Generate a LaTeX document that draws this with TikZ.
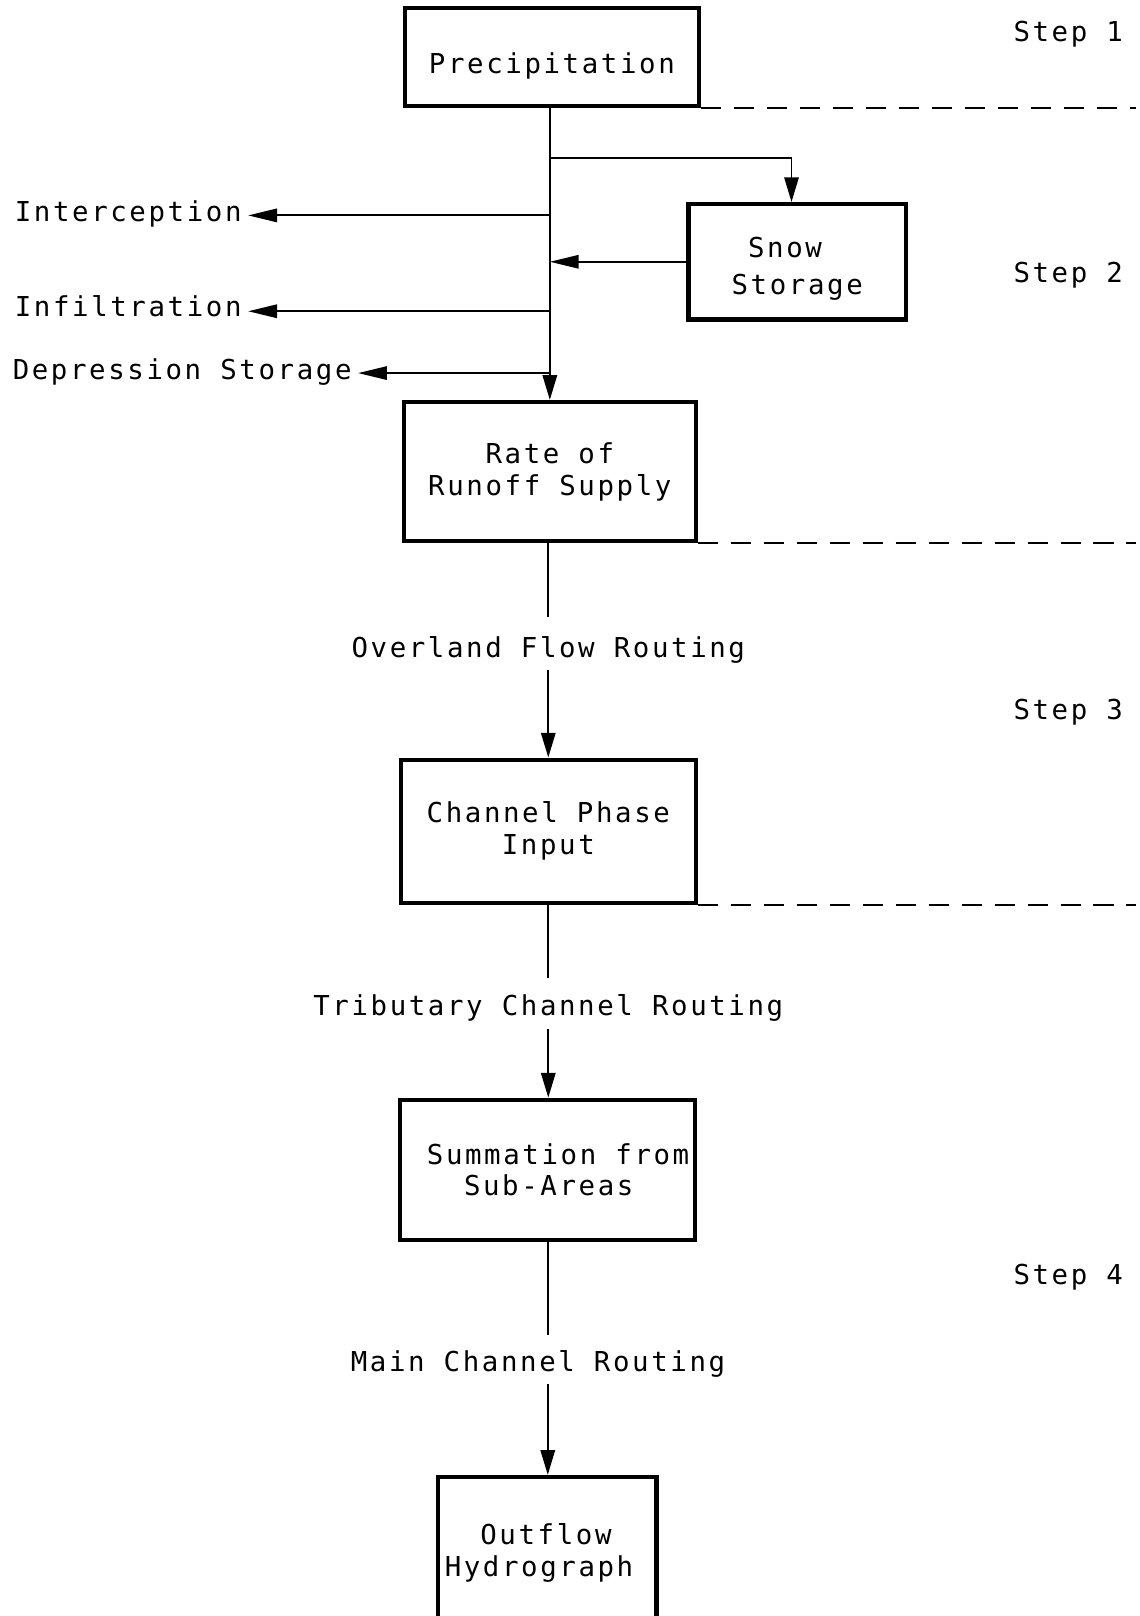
\documentclass[tikz,border=0pt]{standalone}
\usepackage{fontspec}
\setmonofont{DejaVu Sans Mono}[LetterSpace=9.5]
\usetikzlibrary{arrows.meta}
\begin{document}
\begin{tikzpicture}[x=0.5pt, y=-0.5pt,
  every node/.style={font=\ttfamily\fontsize{13.3}{15.5}\selectfont},
  box/.style={draw, line width=2pt, inner sep=0pt, align=center},
  flow/.style={line width=0.9pt},
  downhead/.style={flow, -{Triangle[length=12pt,width=7pt]}},
  sidehead/.style={flow, -{Triangle[length=14pt,width=6.5pt]}},
  divider/.style={line width=0.8pt, dash pattern=on 10pt off 6pt},
  routing/.style={inner sep=0pt},
  steplabel/.style={anchor=base west, inner sep=0pt},
  losslabel/.style={anchor=base west, inner xsep=3pt, inner ysep=0pt}]

\fill[white] (0,0) rectangle (1106,1568);
\useasboundingbox (0,0) rectangle (1106,1568);
\clip (0,0) rectangle (1106,1568);

% main column of process boxes
\node[box, minimum width=142.5pt, minimum height=47.5pt, text height=19pt, text depth=3pt] (prec) at (535.5,55.5) {Precipitation};
\node[box, minimum width=105.5pt, minimum height=56pt, align=left] (snow) at (773.5,254) {\rule{0pt}{16.7pt}\phantom{S}Snow\\[2.5pt]Storage};
\node[box, minimum width=141.5pt, minimum height=67.5pt] (rate) at (533.5,457.5) {Rate of\\Runoff Supply};
\node[box, minimum width=143pt, minimum height=69.5pt] (chan) at (532,806.5) {Channel Phase\\Input};
\node[box, minimum width=143pt, minimum height=68pt, align=left] (summ) at (531.5,1135) {\hspace*{10pt}Summation from\\\hspace*{28pt}Sub-Areas};
\node[box, minimum width=106pt, minimum height=73.5pt, align=left] (outf) at (531,1506.5) {\phantom{Hy}Outflow\\Hydrograph\hspace*{8pt}};

% routing labels that interrupt the trunk
\node[routing, text height=19.5pt, text depth=6pt] (overland) at (532,624.5) {Overland Flow Routing};
\node[routing, text height=18pt, text depth=6.5pt] (trib) at (532,973.5) {Tributary Channel Routing};
\node[routing, text height=17.5pt, text depth=5.5pt] (mainch) at (522,1319) {Main Channel Routing};

% losses leaving the trunk
\node[losslabel] (intc) at (8,215) {Interception};
\node[losslabel] (infl) at (8,307.5) {Infiltration};
\node[losslabel] (depr) at (6,368) {Depression Storage};

% step markers
\node[steplabel] (s1) at (983,40) {Step 1};
\node[steplabel] (s2) at (983,274) {Step 2};
\node[steplabel] (s3) at (983,698) {Step 3};
\node[steplabel] (s4) at (983,1246) {Step 4};

% junctions on the upper trunk and the right rim for dividers
\coordinate (jsnow) at (533.5,153);
\coordinate (jint) at (533.5,209);
\coordinate (jinf) at (533.5,302);
\coordinate (jdep) at (533.5,362);
\coordinate (rim) at (1102,0);

% upper trunk
\draw[downhead] (prec.south -| rate.north) -- (rate.north);
\draw[downhead] (jsnow) -| ([xshift=-2.75pt]snow.north);
\draw[sidehead] (snow.west) -- (snow.west -| rate.north);
\draw[sidehead] (jint) -- (jint -| intc.east);
\draw[sidehead] (jinf) -- (jinf -| infl.east);
\draw[sidehead] (jdep) -- (jdep -| depr.east);

% lower trunk
\draw[flow] (overland.north |- rate.south) -- (overland.north);
\draw[downhead] (overland.south) -- (overland.south |- chan.north);
\draw[flow] (trib.north |- chan.south) -- (trib.north);
\draw[downhead] (trib.south) -- (trib.south |- summ.north);
\draw[flow] (summ.south) -- (summ.south |- mainch.north);
\draw[downhead] (summ.south |- mainch.south) -- (summ.south |- outf.north);

% step dividers
\draw[divider] (prec.south east) -- (prec.south east -| rim);
\draw[divider] (rate.south east) -- (rate.south east -| rim);
\draw[divider] (chan.south east) -- (chan.south east -| rim);
\end{tikzpicture}
\end{document}
